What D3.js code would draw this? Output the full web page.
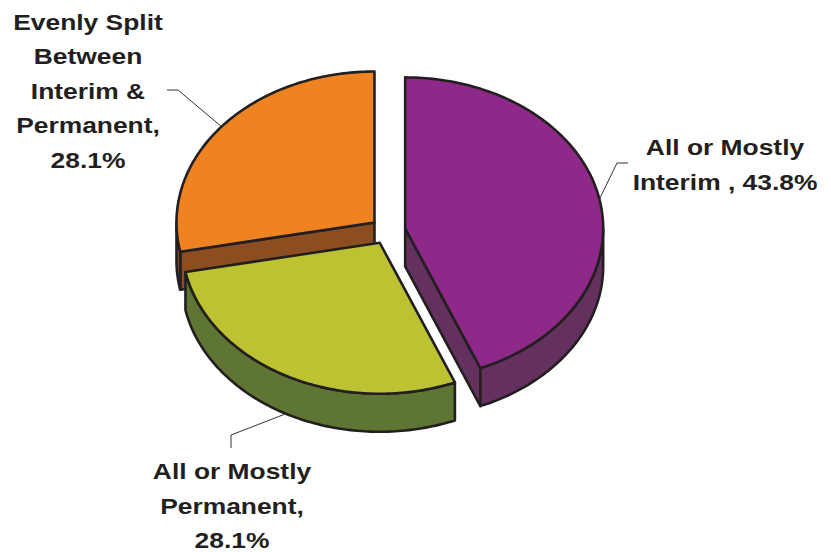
<!DOCTYPE html>
<html>
<head>
<meta charset="utf-8">
<script src="https://cdn.jsdelivr.net/npm/d3@7"></script>
<style>
  html, body { margin: 0; padding: 0; background: #ffffff; }
  svg { display: block; }
</style>
</head>
<body>
<svg id="chart" width="831" height="552"></svg>
<script>
// Share of respondents by staffing arrangement
const categories = ["All or Mostly Interim", "All or Mostly Permanent", "Evenly Split Between Interim & Permanent"];
const values = [43.8, 28.1, 28.1];
const labelLines = [
  ["All or Mostly", "Interim , 43.8%"],
  ["All or Mostly", "Permanent,", "28.1%"],
  ["Evenly Split", "Between", "Interim &", "Permanent,", "28.1%"]
];
const topColors = ["#8E2989", "#BDC232", "#EF8221"];
const sideColors = ["#64305E", "#5E7534", "#8C4D20"];

// Label placement: text centre, first baseline, leader start and elbow
const labelLayout = [
  { x: 725, y: 155, start: [628, 163], elbow: [617, 163] },
  { x: 232, y: 479, start: [231, 448], elbow: [231, 435] },
  { x: 88,  y: 29.5, start: [167, 90], elbow: [178, 90] }
];

const W = 831, H = 552;
const cx = 388, cy = 231;       // pie centre (top face)
const rx = 198, ry = 151;       // ellipse radii of the tilted disc
const depth = 38;               // thickness of the disc
const explode = 17.5;           // radial offset of every slice
const outline = "#231F20";
const lineHeight = 34.6;
const textStretch = 1.2;

const svg = d3.select("#chart");

const pie = d3.pie().sort(null).value(d => d.value).startAngle(0).endAngle(2 * Math.PI);
const arcs = pie(categories.map((c, i) => ({ name: c, value: values[i], i })));

const line = d3.line();

arcs.forEach(a => {
  a.mid = (a.startAngle + a.endAngle) / 2;
  a.ax = cx + explode * Math.sin(a.mid);
  a.ay = cy - explode * Math.cos(a.mid) * (ry / rx);
});

function rim(a, t, dz = 0) {
  return [a.ax + rx * Math.sin(t), a.ay - ry * Math.cos(t) + dz];
}
function arcPoints(a, t0, t1, dz = 0) {
  const n = Math.max(2, Math.ceil((t1 - t0) / (Math.PI / 180)));
  return d3.range(n + 1).map(k => rim(a, t0 + (t1 - t0) * k / n, dz));
}

// back slices first, front slices last
const order = arcs.slice().sort((p, q) => (-Math.cos(p.mid)) - (-Math.cos(q.mid)));

const pieG = svg.append("g");

order.forEach(a => {
  const g = pieG.append("g");
  const apex = [a.ax, a.ay];
  const apexLow = [a.ax, a.ay + depth];

  // radial cut faces facing the viewer
  const faces = [];
  if (Math.sin(a.startAngle) < -1e-6) faces.push(a.startAngle);
  if (Math.sin(a.endAngle) > 1e-6) faces.push(a.endAngle);
  faces.forEach(t => {
    const p = rim(a, t), q = rim(a, t, depth);
    g.append("path")
      .attr("d", line([apex, p, q, apexLow]) + "Z")
      .attr("fill", sideColors[a.data.i])
      .attr("stroke", outline).attr("stroke-width", 2.6).attr("stroke-linejoin", "round");
  });

  // outer wall on the front half of the disc
  const t0 = Math.max(a.startAngle, Math.PI / 2);
  const t1 = Math.min(a.endAngle, 3 * Math.PI / 2);
  if (t1 > t0) {
    const upper = arcPoints(a, t0, t1, 0);
    const lower = arcPoints(a, t0, t1, depth).reverse();
    g.append("path")
      .attr("d", line(upper.concat(lower)) + "Z")
      .attr("fill", sideColors[a.data.i])
      .attr("stroke", outline).attr("stroke-width", 2.6).attr("stroke-linejoin", "round");
  }

  // top face
  const top = [apex].concat(arcPoints(a, a.startAngle, a.endAngle, 0));
  g.append("path")
    .attr("d", line(top) + "Z")
    .attr("fill", topColors[a.data.i])
    .attr("stroke", outline).attr("stroke-width", 2.6).attr("stroke-linejoin", "round");
});

// leader lines and labels
const labelG = svg.append("g");
arcs.forEach(a => {
  const L = labelLayout[a.data.i];
  const front = Math.cos(a.mid) < 0;
  const end = rim(a, a.mid, front ? depth : 0);
  labelG.append("path")
    .attr("d", line([L.start, L.elbow, end]))
    .attr("fill", "none")
    .attr("stroke", "#333333")
    .attr("stroke-width", 1);

  labelLines[a.data.i].forEach((txt, k) => {
    labelG.append("text")
      .attr("transform", `translate(${L.x},${L.y + k * lineHeight}) scale(${textStretch},1)`)
      .attr("text-anchor", "middle")
      .attr("font-family", "'Liberation Sans', Arial, Helvetica, sans-serif")
      .attr("font-weight", "bold")
      .attr("font-size", 22)
      .attr("fill", outline)
      .text(txt);
  });
});
</script>
</body>
</html>
